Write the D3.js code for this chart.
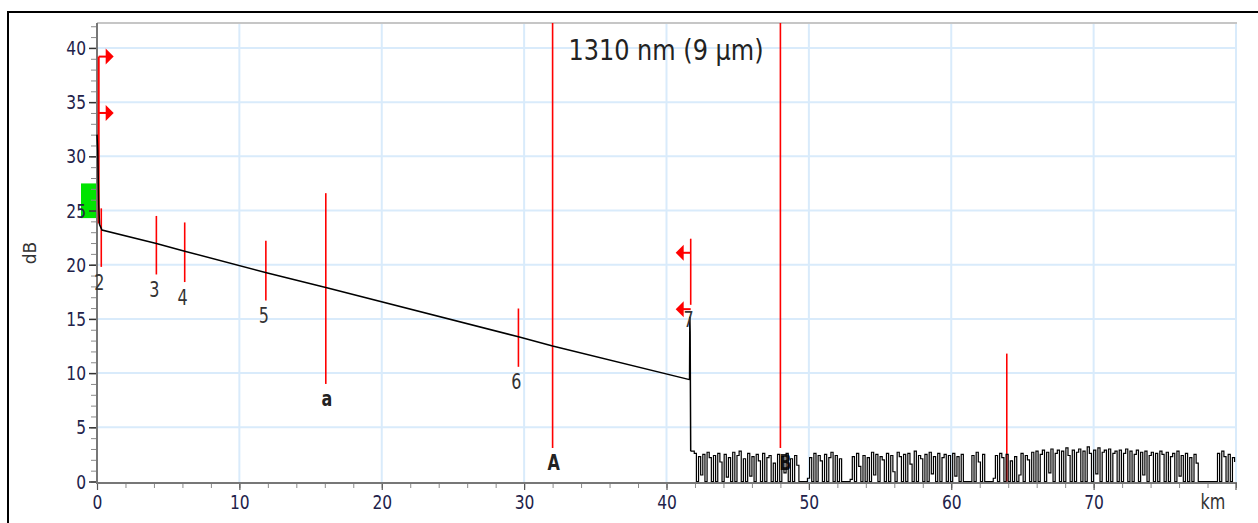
<!DOCTYPE html>
<html><head><meta charset="utf-8">
<script src="https://cdn.jsdelivr.net/npm/d3@7"></script>
<style>
body{margin:0;background:#fff;}
svg text{font-family:"DejaVu Sans",Verdana,sans-serif;}
.tall{transform-box:fill-box;transform-origin:center;transform:scaleY(1.3);}
.title{transform-box:fill-box;transform-origin:center;transform:scaleY(1.2);}
</style></head><body><svg id="c" width="1258" height="523"></svg>
<script>
// OTDR trace, 1310 nm — fibre section (km, dB)
const traceKm = [0.0, 0.05, 0.08, 0.12, 0.18, 0.35, 4.17, 6.16, 11.9, 16.07, 29.6, 32.0, 41.62, 41.64, 41.66, 41.7];
const traceDb = [32.0, 30.6, 28.5, 25.5, 23.7, 23.2, 21.95, 21.25, 19.25, 17.9, 13.35, 12.5, 9.4, 15.2, 13.8, 2.8];

// noise floor after the fibre end, one reading every 0.15 km from 41.8 km
const noiseStartKm = 41.8;
const noiseStepKm = 0.15;
const noiseDb = [
  2.8, 2.6, 0, 2.3, 0.6, 2.5, 0, 2.7, 2.2, 0, 2.4, 0, 2.6, 1.8, 0, 2.5, 0.4, 2.2, 0, 2.7,
  0, 2.4, 2.8, 0, 2.1, 0, 2.6, 0.5, 2.3, 0, 2.5, 1.9, 0, 2.6, 0, 2.2, 2.4, 0, 1.7, 0,
  2.5, 0, 2.3, 0.8, 2.6, 0, 2.1, 0, 2.4, 1.5, 0, 0, 0, 0, 0.3, 2.2, 0, 2.6, 0, 2.4,
  1.9, 0, 2.5, 0, 2.2, 2.7, 0, 2.4, 0, 2.1, 0, 0, 0, 0, 0.2, 2.3, 0, 2.6, 1.4, 0,
  2.4, 0, 2.2, 0, 2.7, 0.6, 2.5, 0, 2.3, 2.0, 0, 2.6, 0, 2.4, 0.9, 0, 2.7, 2.3, 0, 2.5,
  0, 2.6, 1.6, 0, 2.8, 0, 2.4, 2.1, 0, 2.5, 0, 2.7, 0.7, 2.3, 0, 2.6, 0, 2.2, 2.5, 0,
  2.4, 0, 2.6, 0.5, 2.3, 0, 2.5, 0, 0, 0, 0, 2.4, 0, 2.7, 1.8, 0, 2.5, 0, 0, 0,
  0, 0.3, 2.4, 0, 2.6, 2.2, 0, 2.5, 0, 1.9, 0, 2.3, 0, 0.6, 2.6, 0, 2.4, 2.0, 0, 2.7,
  0, 2.8, 0, 2.5, 2.9, 0, 2.7, 0.8, 3.0, 0, 2.6, 2.9, 0, 2.8, 0, 3.1, 2.4, 0, 2.9, 0,
  2.7, 3.0, 0, 2.8, 0, 3.2, 2.6, 0, 2.9, 0.7, 3.1, 0, 2.7, 2.9, 0, 3.0, 0, 2.6, 2.8, 0,
  2.9, 0, 2.6, 3.0, 0, 2.8, 0, 2.5, 2.9, 0, 2.7, 0.6, 2.8, 0, 2.4, 2.7, 0, 2.6, 0, 2.8,
  2.5, 0, 2.7, 0, 2.3, 2.6, 0, 2.8, 0.5, 2.4, 0, 2.6, 0, 2.2, 0, 2.5, 1.7, 0, 0, 0,
  0, 0, 0, 0, 0, 0, 2.6, 0, 2.8, 2.3, 0, 2.5, 0, 2.2, 1.8
];

// numbered events: position, marker extent, label
const eventKm = [0.3, 4.17, 6.16, 11.86, 29.6, 41.7];
const eventTopDb = [25.2, 24.5, 23.9, 22.2, 15.96, 22.4];
const eventBottomDb = [19.8, 19.1, 18.4, 16.7, 10.58, 16.3];
const eventLabels = ["2", "3", "4", "5", "6", "7"];

// cursors
const cursorKm = [16.07, 32.0, 48.0];
const cursorTopDb = [26.6, 42.3, 42.3];
const cursorBottomDb = [9.0, 3.1, 3.1];
const cursorLabels = ["a", "A", "B"];

// reflectance arrows
const arrowKm = [0.12, 0.12, 41.7, 41.7];
const arrowDb = [39.2, 34.0, 21.1, 15.9];
const arrowDir = [1, 1, -1, -1];

const yTicks = [0, 5, 10, 15, 20, 25, 30, 35, 40];
const xTicks = [0, 10, 20, 30, 40, 50, 60, 70];

const svg = d3.select("#c");
const W = 1258, H = 523;
const x = d3.scaleLinear().domain([0, 80]).range([97, 1236]);
const y = d3.scaleLinear().domain([0, 42.3]).range([481.5, 23]);

// outer frame
svg.append("rect").attr("x", 8).attr("y", 12).attr("width", W + 10).attr("height", H + 10)
  .attr("fill", "#fff").attr("stroke", "#000").attr("stroke-width", 2);

// grid
const grid = svg.append("g");
grid.selectAll(".gh").data(yTicks.filter(d => d > 0)).join("line")
  .attr("x1", x(0)).attr("x2", x(80)).attr("y1", d => y(d)).attr("y2", d => y(d))
  .attr("stroke", "#d9ebfb").attr("stroke-width", 2);
grid.selectAll(".gv").data(d3.range(10, 81, 10)).join("line")
  .attr("x1", d => x(d)).attr("x2", d => x(d)).attr("y1", y.range()[1]).attr("y2", 483)
  .attr("stroke", "#d9ebfb").attr("stroke-width", 2);
svg.append("line").attr("x1", x(0)).attr("x2", x(80) + 1).attr("y1", 23).attr("y2", 23)
  .attr("stroke", "#c6c6c6").attr("stroke-width", 2);

// green level block at the start
svg.append("rect").attr("x", 81).attr("y", y(27.5)).attr("width", 15).attr("height", y(24.3) - y(27.5))
  .attr("fill", "#00e400");

// axes
const yMinor = d3.axisLeft(y).tickValues(d3.range(0, 43, 1)).tickSize(6).tickFormat("");
const gyMin = svg.append("g").attr("transform", "translate(97,0)").call(yMinor);
gyMin.selectAll("line").attr("stroke", "#8a8a8a");
gyMin.select(".domain").remove();
const yAxis = d3.axisLeft(y).tickValues(yTicks).tickSize(8).tickPadding(3);
const gy = svg.append("g").attr("transform", "translate(97,0)").call(yAxis);
gy.select(".domain").remove();
gy.selectAll("line").attr("stroke", "#333").attr("stroke-width", 1.5);
gy.selectAll("text").attr("class", "tall").attr("font-size", 15.5).attr("fill", "#22224a")
  .attr("font-family", "DejaVu Sans");
svg.append("line").attr("x1", 97).attr("x2", 97).attr("y1", 23).attr("y2", 484)
  .attr("stroke", "#777").attr("stroke-width", 2);

const xMinor = d3.axisBottom(x).tickValues(d3.range(0, 81, 2)).tickSize(5).tickFormat("");
const gxMin = svg.append("g").attr("transform", "translate(0,483)").call(xMinor);
gxMin.selectAll("line").attr("stroke", "#8a8a8a");
gxMin.select(".domain").remove();
const xAxis = d3.axisBottom(x).tickValues(xTicks).tickSize(7).tickPadding(6);
const gx = svg.append("g").attr("transform", "translate(0,483)").call(xAxis);
gx.select(".domain").remove();
gx.selectAll("line").attr("stroke", "#555").attr("stroke-width", 1.2);
gx.selectAll("text").attr("class", "tall").attr("font-size", 15.5).attr("fill", "#22224a")
  .attr("font-family", "DejaVu Sans");
svg.append("line").attr("x1", 96).attr("x2", x(80) + 1).attr("y1", 483).attr("y2", 483)
  .attr("stroke", "#777").attr("stroke-width", 2);
svg.append("line").attr("x1", x(80)).attr("x2", x(80)).attr("y1", 483).attr("y2", 490)
  .attr("stroke", "#555").attr("stroke-width", 1.2);

// axis titles
svg.append("text").attr("class", "tall").attr("x", 1213).attr("y", 507).attr("text-anchor", "middle")
  .attr("font-size", 16).attr("fill", "#333").text("km");
svg.append("text").attr("transform", "translate(36,253) rotate(-90)").attr("text-anchor", "middle")
  .attr("font-size", 17).attr("fill", "#333").text("dB");

// title
svg.append("text").attr("class", "title").attr("x", 666).attr("y", 58).attr("text-anchor", "middle")
  .attr("font-size", 24).attr("fill", "#222").text("1310 nm (9 µm)");

const red = "#ff0000";
// cursors with their labels (drawn under the trace)
cursorKm.forEach((k, i) => {
  svg.append("line").attr("x1", x(k)).attr("x2", x(k)).attr("y1", y(cursorTopDb[i])).attr("y2", y(cursorBottomDb[i]))
    .attr("stroke", red).attr("stroke-width", 1.6);
  svg.append("text").attr("class", "tall").attr("x", x(k) + (i === 2 ? 5 : 1)).attr("y", y(cursorBottomDb[i]) + 20)
    .attr("text-anchor", "middle").attr("font-size", 16).attr("font-weight", "bold").attr("fill", "#222")
    .text(cursorLabels[i]);
});

// start marker and far marker
svg.append("line").attr("x1", x(0.12)).attr("x2", x(0.12)).attr("y1", y(39.2)).attr("y2", y(23.8))
  .attr("stroke", red).attr("stroke-width", 2);
svg.append("line").attr("x1", x(63.9)).attr("x2", x(63.9)).attr("y1", y(11.8)).attr("y2", y(0))
  .attr("stroke", red).attr("stroke-width", 1.6);

// event markers
eventKm.forEach((k, i) => {
  svg.append("line").attr("x1", x(k)).attr("x2", x(k)).attr("y1", y(eventTopDb[i])).attr("y2", y(eventBottomDb[i]))
    .attr("stroke", red).attr("stroke-width", 1.6);
});

// reflectance arrows
arrowKm.forEach((k, i) => {
  const px = x(k), py = y(arrowDb[i]), d = arrowDir[i];
  svg.append("line").attr("x1", px).attr("x2", px + d * 8).attr("y1", py).attr("y2", py)
    .attr("stroke", red).attr("stroke-width", 2);
  svg.append("path").attr("d", `M${px + d * 7},${py - 8}L${px + d * 15},${py}L${px + d * 7},${py + 8}Z`)
    .attr("fill", red);
});

// trace
const line = d3.line().x(d => x(d[0])).y(d => y(d[1]));
svg.append("path").datum(traceKm.map((k, i) => [k, traceDb[i]]))
  .attr("d", line).attr("fill", "none").attr("stroke", "#000").attr("stroke-width", 1.5);
const noisePts = noiseDb.map((v, i) => [noiseStartKm + i * noiseStepKm, v]);
noisePts.unshift([41.7, 2.8]);
svg.append("path").datum(noisePts)
  .attr("d", d3.line().x(d => x(d[0])).y(d => y(d[1])).curve(d3.curveStepAfter))
  .attr("fill", "none").attr("stroke", "#000").attr("stroke-width", 1.2);

// event labels
eventKm.forEach((k, i) => {
  svg.append("text").attr("class", "tall").attr("x", x(k) - 2).attr("y", y(eventBottomDb[i]) + 21)
    .attr("text-anchor", "middle").attr("font-size", 16).attr("fill", "#333").text(eventLabels[i]);
});
</script></body></html>
